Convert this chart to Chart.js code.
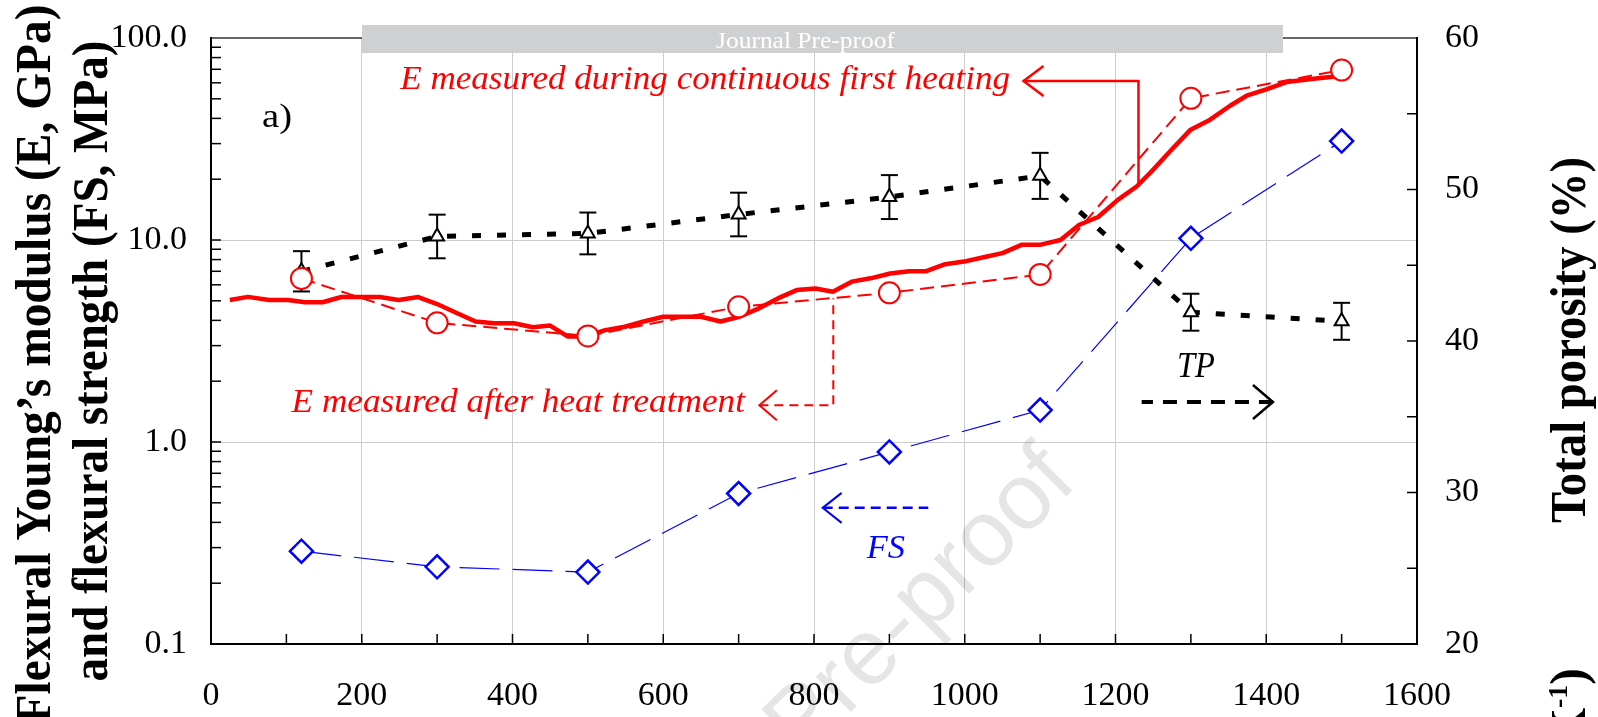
<!DOCTYPE html>
<html>
<head>
<meta charset="utf-8">
<script src="https://cdn.jsdelivr.net/npm/chart.js@4.4.0/dist/chart.umd.min.js"></script>
<style>
  html, body { margin: 0; padding: 0; background: #fff; overflow: hidden; }
  canvas { display: block; }
</style>
</head>
<body>
<canvas id="modulusChart" width="1598" height="717" style="width:1598px;height:717px"></canvas>
<script>
// E measured during continuous first heating (temperature in C, modulus in GPa)
const heatTemps = [25, 49, 77, 102, 125, 148, 173, 199, 224, 249, 275, 300, 326, 351, 376, 402, 427, 450,
    473, 498, 523, 549, 574, 600, 625, 650, 676, 701, 727, 752, 777, 802, 825, 850, 875, 901, 926, 949,
    974, 999, 1025, 1050, 1076, 1101, 1127, 1152, 1177, 1203, 1228, 1248, 1274, 1299, 1325, 1352, 1374,
    1401, 1427, 1463, 1498];
const heatModulus = [5.05, 5.23, 5.05, 5.05, 4.92, 4.92, 5.22, 5.22, 5.22, 5.05, 5.22, 4.82, 4.35, 3.95,
    3.87, 3.87, 3.70, 3.77, 3.33, 3.33, 3.58, 3.72, 3.95, 4.17, 4.17, 4.17, 3.95, 4.17, 4.59, 5.14, 5.65,
    5.75, 5.54, 6.22, 6.46, 6.83, 7.01, 7.01, 7.59, 7.82, 8.22, 8.61, 9.48, 9.48, 10.0, 11.9, 13.0, 15.8,
    18.4, 21.9, 27.9, 35.0, 39.3, 46.2, 51.8, 55.9, 60.5, 62.8, 64.8];

// Heat treatment temperatures and the values measured afterwards
const treatTemps = [120, 300, 500, 700, 900, 1100, 1300, 1500];
const treatModulus = [6.45, 3.89, 3.35, 4.67, 5.48, 6.75, 50.3, 69.4];   // E, GPa
const flexStrength = [0.288, 0.241, 0.227, 0.556, 0.893, 1.44, 10.2, 30.9]; // FS, MPa
const porosity = [44.6, 46.9, 47.1, 48.35, 49.5, 50.9, 41.9, 41.3];       // TP, %
const porosityErr = [1.33, 1.44, 1.38, 1.44, 1.45, 1.52, 1.22, 1.22];

// Axis ticks
const xTicks = [0, 200, 400, 600, 800, 1000, 1200, 1400, 1600];
const xMinorTicks = [100, 300, 500, 700, 900, 1100, 1300, 1500];
const yTicks = [0.1, 1, 10, 100];
const yTickLabels = ['0.1', '1.0', '10.0', '100.0'];
const y2Ticks = [20, 30, 40, 50, 60];
const y2MinorTicks = [25, 35, 45, 55];

const SERIF = "'Liberation Serif', 'Times New Roman', serif";
const RED = '#ff0000';
const BLUE = '#0000ff';

function pairs(xs, ys) {
    return xs.map((x, i) => ({ x: x, y: ys[i] }));
}

// small drawing helpers
function line(ctx, x1, y1, x2, y2) {
    ctx.beginPath();
    ctx.moveTo(x1, y1);
    ctx.lineTo(x2, y2);
    ctx.stroke();
}

function fitText(ctx, text, x, y, width, font, color) {
    ctx.save();
    ctx.font = font;
    ctx.fillStyle = color;
    ctx.textAlign = 'left';
    ctx.textBaseline = 'alphabetic';
    const w = ctx.measureText(text).width;
    ctx.translate(x, y);
    ctx.scale(width / w, 1);
    ctx.fillText(text, 0, 0);
    ctx.restore();
}

function verticalText(ctx, text, x, yCenter, length, font) {
    ctx.save();
    ctx.font = font;
    ctx.fillStyle = '#000';
    ctx.textAlign = 'center';
    ctx.textBaseline = 'alphabetic';
    const w = ctx.measureText(text).width;
    ctx.translate(x, yCenter);
    ctx.rotate(-Math.PI / 2);
    ctx.scale(length / w, 1);
    ctx.fillText(text, 0, 0);
    ctx.restore();
}

// polyline with an open arrow head on its first point
function arrow(ctx, pts, opts) {
    ctx.save();
    ctx.strokeStyle = opts.color;
    ctx.lineWidth = opts.width;
    ctx.setLineDash(opts.dash || []);
    ctx.beginPath();
    ctx.moveTo(pts[0].x, pts[0].y);
    for (let i = 1; i < pts.length; i++) ctx.lineTo(pts[i].x, pts[i].y);
    ctx.stroke();
    ctx.setLineDash([]);
    ctx.lineWidth = opts.headWidth || opts.width;
    const dir = Math.sign(pts[1].x - pts[0].x);
    ctx.beginPath();
    ctx.moveTo(pts[0].x + dir * opts.back, pts[0].y - opts.half);
    ctx.lineTo(pts[0].x, pts[0].y);
    ctx.lineTo(pts[0].x + dir * opts.back, pts[0].y + opts.half);
    ctx.stroke();
    ctx.restore();
}

// keep tick labels from pushing the plot area around
function noLabelPadding(scale) {
    scale.paddingTop = 0;
    scale.paddingBottom = 0;
    scale.paddingLeft = 0;
    scale.paddingRight = 0;
}

const decorations = {
    id: 'decorations',
    beforeDatasetsDraw(chart) {
        // error bars for total porosity
        const ctx = chart.ctx, xs = chart.scales.x, y2 = chart.scales.y2;
        ctx.save();
        ctx.strokeStyle = '#000';
        ctx.lineWidth = 2;
        treatTemps.forEach((t, i) => {
            const px = xs.getPixelForValue(t);
            const top = y2.getPixelForValue(porosity[i] + porosityErr[i]);
            const bot = y2.getPixelForValue(porosity[i] - porosityErr[i]);
            line(ctx, px, top, px, bot);
            line(ctx, px - 8.5, top, px + 8.5, top);
            line(ctx, px - 8.5, bot, px + 8.5, bot);
        });
        ctx.restore();
    },
    afterDatasetsDraw(chart) {
        const ctx = chart.ctx;
        const { left, right, top, bottom } = chart.chartArea;
        const xs = chart.scales.x, ys = chart.scales.y, y2 = chart.scales.y2;
        const P = (x, v) => ({ x: xs.getPixelForValue(x), y: ys.getPixelForValue(v) });
        const P2 = (x, v) => ({ x: xs.getPixelForValue(x), y: y2.getPixelForValue(v) });

        // frame
        ctx.save();
        ctx.lineWidth = 2;
        ctx.strokeStyle = '#666';
        line(ctx, left, top, right, top);
        ctx.strokeStyle = '#000';
        line(ctx, left, top - 1, left, bottom + 1);
        line(ctx, left - 1, bottom, right + 1, bottom);
        line(ctx, right, top - 1, right, bottom + 1);

        // inward ticks
        ctx.lineWidth = 1.5;
        xTicks.concat(xMinorTicks).forEach(t => {
            const px = xs.getPixelForValue(t);
            if (px > left + 1 && px < right - 1) line(ctx, px, bottom, px, bottom - 10);
        });
        [0.1, 1, 10].forEach(d => {
            for (let k = 1; k <= 9; k++) {
                const v = d * k;
                if (v <= 0.1 || v >= 100) continue;
                const py = ys.getPixelForValue(v);
                line(ctx, left, py, left + 10, py);
            }
        });
        y2Ticks.concat(y2MinorTicks).forEach(v => {
            const py = y2.getPixelForValue(v);
            if (py > top + 1 && py < bottom - 1) line(ctx, right, py, right - 10, py);
        });
        ctx.restore();

        // annotations
        fitText(ctx, 'a)', P(67.7, 36.2).x, P(67.7, 36.2).y, 30, '33px ' + SERIF, '#000');

        const h1 = P(251, 55.6), h1e = P(1060, 55.6);
        fitText(ctx, 'E measured during continuous first heating', h1.x, h1.y, h1e.x - h1.x,
            'italic 34px ' + SERIF, RED);
        arrow(ctx, [P(1078, 61.2), P(1230.5, 61.2), P(1230.5, 18.4)],
            { color: RED, width: 2.5, back: 20, half: 15 });

        const h2 = P(106.9, 1.405), h2e = P(708.4, 1.405);
        fitText(ctx, 'E measured after heat treatment', h2.x, h2.y, h2e.x - h2.x,
            'italic 33px ' + SERIF, RED);
        arrow(ctx, [P(727.5, 1.52), P(825.6, 1.52), P(825.6, 5.15)],
            { color: RED, width: 2, dash: [9, 6], back: 17.5, half: 15 });

        const tp = P2(1281.5, 37.6), tpe = P2(1331.9, 37.6);
        fitText(ctx, 'TP', tp.x, tp.y, tpe.x - tp.x, 'italic 35px ' + SERIF, '#000');
        arrow(ctx, [P2(1408.9, 35.97), P2(1234.7, 35.97)],
            { color: '#000', width: 4, headWidth: 2.5, dash: [14, 10], back: 20, half: 17 });

        const fs = P(870, 0.268), fse = P(920.7, 0.268);
        fitText(ctx, 'FS', fs.x, fs.y, fse.x - fs.x, 'italic 33px ' + SERIF, BLUE);
        arrow(ctx, [P(811.5, 0.472), P(951.6, 0.472)],
            { color: BLUE, width: 2.5, headWidth: 2, dash: [10, 6], back: 19, half: 15 });
    },
    afterDraw(chart) {
        const ctx = chart.ctx;

        // axis titles
        const bold = 'bold 50px ' + SERIF;
        verticalText(ctx, 'Flexural Young\u2019s modulus (E, GPa)', 50, 364, 719, bold);
        verticalText(ctx, 'and flexural strength (FS, MPa)', 107, 361, 641, bold);
        verticalText(ctx, 'Total porosity (%)', 1585, 340, 366, bold);

        // clipped title of a further axis at the bottom right
        ctx.save();
        ctx.translate(1585, 668);
        ctx.rotate(-Math.PI / 2);
        ctx.fillStyle = '#000';
        ctx.textBaseline = 'alphabetic';
        ctx.textAlign = 'right';
        ctx.font = bold;
        ctx.fillText(')', 0, 0);
        const wp = ctx.measureText(')').width;
        ctx.font = 'bold 28px ' + SERIF;
        ctx.fillText('-1', -wp, -18);
        const ws = ctx.measureText('-1').width;
        ctx.font = bold;
        ctx.fillText('(K', -wp - ws, 0);
        ctx.restore();

        // watermark
        ctx.save();
        ctx.translate(922, 604);
        ctx.rotate(-45 * Math.PI / 180);
        ctx.font = "94px 'Liberation Sans', Arial, sans-serif";
        ctx.fillStyle = 'rgba(0, 0, 0, 0.1)';
        ctx.textAlign = 'center';
        ctx.textBaseline = 'middle';
        ctx.fillText('Pre-proof', 0, 0);
        ctx.restore();

        // journal banner
        ctx.save();
        ctx.fillStyle = '#cfd0d2';
        ctx.fillRect(362, 25, 921, 28);
        ctx.restore();
        fitText(ctx, 'Journal Pre-proof', 716, 48, 179, '24px ' + SERIF, '#fff');
    }
};

const ctx = document.getElementById('modulusChart').getContext('2d');
const tickFont = { family: SERIF, size: 34 };

new Chart(ctx, {
    type: 'line',
    data: {
        datasets: [
            {
                label: 'E after heat treatment',
                data: pairs(treatTemps, treatModulus),
                yAxisID: 'y',
                borderColor: RED,
                borderWidth: 2,
                borderDash: [14, 7],
                pointStyle: 'circle',
                pointRadius: 10.5,
                pointBorderWidth: 2,
                pointBorderColor: RED,
                pointBackgroundColor: '#fff',
                order: 1
            },
            {
                label: 'FS',
                data: pairs(treatTemps, flexStrength),
                yAxisID: 'y',
                borderColor: BLUE,
                borderWidth: 1.2,
                borderDash: [40, 13],
                pointStyle: 'rectRot',
                pointRadius: 11.5,
                pointBorderWidth: 2.5,
                pointBorderColor: BLUE,
                pointBackgroundColor: '#fff',
                order: 2
            },
            {
                label: 'TP',
                data: pairs(treatTemps, porosity),
                yAxisID: 'y2',
                borderColor: '#000',
                borderWidth: 5,
                borderDash: [9, 16],
                pointStyle: 'triangle',
                pointRadius: 8,
                pointBorderWidth: 2,
                pointBorderColor: '#000',
                pointBackgroundColor: '#fff',
                order: 3
            },
            {
                label: 'E continuous heating',
                data: pairs(heatTemps, heatModulus),
                yAxisID: 'y',
                borderColor: RED,
                borderWidth: 4.5,
                pointRadius: 0,
                borderJoinStyle: 'round',
                order: 4
            }
        ]
    },
    options: {
        responsive: false,
        devicePixelRatio: 1,
        animation: false,
        layout: { padding: { top: 38, left: 0, right: 0, bottom: 0 } },
        plugins: {
            legend: { display: false },
            tooltip: { enabled: false }
        },
        elements: { line: { tension: 0 } },
        scales: {
            x: {
                type: 'linear',
                position: 'bottom',
                min: 0,
                max: 1600,
                afterBuildTicks: (scale) => { scale.ticks = xTicks.map(v => ({ value: v })); },
                afterFit: (scale) => { scale.height = 73; noLabelPadding(scale); },
                ticks: {
                    font: tickFont,
                    color: '#000',
                    padding: 32,
                    autoSkip: false,
                    maxRotation: 0,
                    callback: (v) => String(v)
                },
                grid: { color: '#cccccc', lineWidth: 1, drawTicks: false },
                border: { display: false }
            },
            y: {
                type: 'logarithmic',
                position: 'left',
                min: 0.1,
                max: 100,
                afterBuildTicks: (scale) => { scale.ticks = yTicks.map(v => ({ value: v })); },
                afterFit: (scale) => { scale.width = 211; noLabelPadding(scale); },
                ticks: {
                    font: tickFont,
                    color: '#000',
                    padding: 24,
                    callback: (v) => yTickLabels[yTicks.indexOf(v)] || ''
                },
                grid: { color: '#cccccc', lineWidth: 1, drawTicks: false },
                border: { display: false }
            },
            y2: {
                type: 'linear',
                position: 'right',
                min: 20,
                max: 60,
                afterBuildTicks: (scale) => { scale.ticks = y2Ticks.map(v => ({ value: v })); },
                afterFit: (scale) => { scale.width = 181; noLabelPadding(scale); },
                ticks: {
                    font: tickFont,
                    color: '#000',
                    padding: 28,
                    callback: (v) => String(v)
                },
                grid: { display: false, drawTicks: false },
                border: { display: false }
            }
        }
    },
    plugins: [decorations]
});
</script>
</body>
</html>
